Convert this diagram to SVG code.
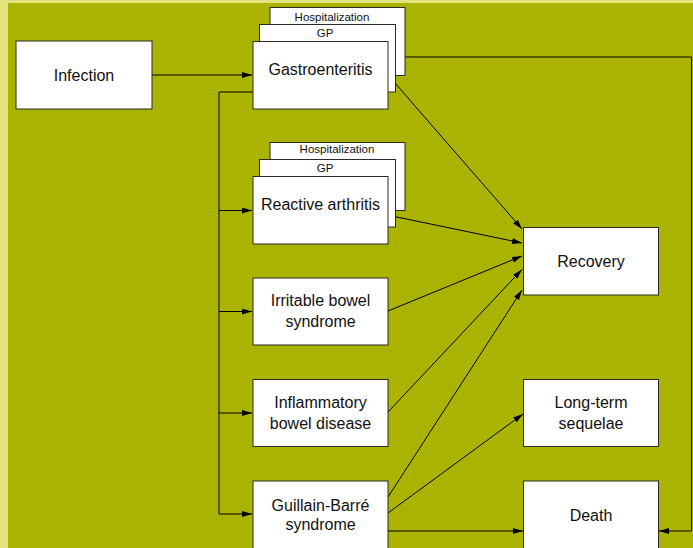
<svg xmlns="http://www.w3.org/2000/svg" width="693" height="548" viewBox="0 0 693 548">
  <style>
    .box { fill: #ffffff; stroke: #2a2a2a; stroke-width: 1; }
    .lbl { font-family: "Liberation Sans", Arial, sans-serif; font-size: 16px; fill: #111; text-anchor: middle; }
    .sm { font-family: "Liberation Sans", Arial, sans-serif; font-size: 11.5px; fill: #111; text-anchor: middle; }
    .edge { fill: none; stroke: #000; stroke-width: 1; marker-end: url(#arrow); }
    .plain { fill: none; stroke: #000; stroke-width: 1; }
  </style>
  <defs>
    <marker id="arrow" markerUnits="userSpaceOnUse" markerWidth="11" markerHeight="7" refX="10" refY="3" orient="auto">
      <path d="M0,0 L10,3 L0,6 z" fill="#000"/>
    </marker>
  </defs>

  <!-- background -->
  <rect x="0" y="0" width="693" height="548" fill="#e2e57e"/>
  <rect x="8" y="3" width="685" height="545" fill="#aab400"/>

  <!-- connectors -->
  <g id="connectors">
    <path class="edge" d="M152,75 L252,75"/>
    <path class="plain" d="M253,92 L219,92 L219,514"/>
    <path class="edge" d="M219,210.5 L252,210.5"/>
    <path class="edge" d="M219,311.5 L252,311.5"/>
    <path class="edge" d="M219,413 L252,413"/>
    <path class="edge" d="M219,514 L252,514"/>
    <path class="edge" d="M405,57 L691.5,57 L691.5,531 L659,531"/>
    <path class="edge" d="M388,75 L522,229"/>
    <path class="edge" d="M392,216 L522,243"/>
    <path class="edge" d="M388,311 L522,256"/>
    <path class="edge" d="M388,412 L522,269.5"/>
    <path class="edge" d="M388,497 L522,290"/>
    <path class="edge" d="M388,513 L523,414"/>
    <path class="edge" d="M388,531 L523,531"/>
  </g>

  <g id="infection">
    <rect class="box" x="16" y="41" width="136" height="68"/>
    <text class="lbl" x="84" y="80.5">Infection</text>
  </g>

  <g id="gastroenteritis">
    <rect class="box" x="270" y="7.5" width="135" height="68"/>
    <text class="sm" x="332" y="21">Hospitalization</text>
    <rect class="box" x="259.5" y="24.5" width="136" height="67.5"/>
    <text class="sm" x="325" y="37">GP</text>
    <rect class="box" x="253" y="41.5" width="135" height="67.5"/>
    <text class="lbl" x="320.5" y="75">Gastroenteritis</text>
  </g>

  <g id="reactive-arthritis">
    <rect class="box" x="270" y="142.5" width="135" height="68"/>
    <text class="sm" x="337" y="153">Hospitalization</text>
    <rect class="box" x="259.5" y="159.5" width="136" height="67.5"/>
    <text class="sm" x="325" y="171.5">GP</text>
    <rect class="box" x="253" y="176.5" width="135" height="67.5"/>
    <text class="lbl" x="320.5" y="210">Reactive arthritis</text>
  </g>

  <g id="ibs">
    <rect class="box" x="253" y="278" width="135" height="67"/>
    <text class="lbl" x="320.5" y="305.5">Irritable bowel</text>
    <text class="lbl" x="320.5" y="326.5">syndrome</text>
  </g>

  <g id="ibd">
    <rect class="box" x="253" y="379.5" width="135" height="67"/>
    <text class="lbl" x="320.5" y="407.5">Inflammatory</text>
    <text class="lbl" x="320.5" y="428.5">bowel disease</text>
  </g>

  <g id="gbs">
    <rect class="box" x="253" y="481" width="135" height="70"/>
    <text class="lbl" x="320.5" y="510.5">Guillain-Barré</text>
    <text class="lbl" x="320.5" y="530">syndrome</text>
  </g>

  <g id="recovery">
    <rect class="box" x="523.5" y="227.5" width="135" height="67.5"/>
    <text class="lbl" x="591" y="267">Recovery</text>
  </g>

  <g id="long-term-sequelae">
    <rect class="box" x="523.5" y="379.5" width="135" height="67"/>
    <text class="lbl" x="591" y="407.5">Long-term</text>
    <text class="lbl" x="591" y="428.5">sequelae</text>
  </g>

  <g id="death">
    <rect class="box" x="523.5" y="481" width="135" height="70"/>
    <text class="lbl" x="591" y="521">Death</text>
  </g>
</svg>
